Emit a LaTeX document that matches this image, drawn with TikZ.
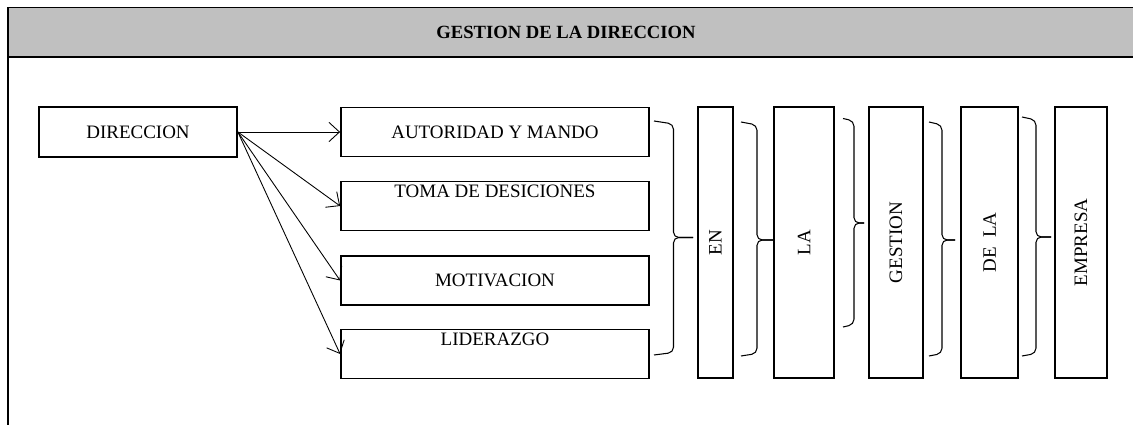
\documentclass[tikz,border=0pt]{standalone}
\usepackage{fontspec}
\setmainfont{Liberation Serif}
\usetikzlibrary{arrows.meta,calc}
\definecolor{headgrey}{HTML}{C0C0C0}

\begin{document}
\begin{tikzpicture}[
  font=\fontsize{10.8}{12.6}\selectfont,
  boxnode/.style={rectangle,draw=black,line width=1pt,inner sep=1pt},
  dirnode/.style={boxnode,minimum width=3.96cm,minimum height=1cm},
  subnode/.style={boxnode,minimum width=6.16cm,minimum height=0.98cm,align=center},
  tallnode/.style={boxnode,rotate=90,minimum width=5.42cm},
  arr/.style={-{Straight Barb[length=6pt,width=11pt]},line width=0.5pt},
  brc/.style={line width=0.6pt,rounded corners=3pt},
  frameline/.style={line width=1.1pt},
  titlelabel/.style={font=\fontsize{10.6}{12}\selectfont\bfseries},
]
\useasboundingbox (0,0) rectangle (22.66,-8.5);

% Header band and frame
\fill[headgrey] (0.16,-0.15) rectangle (22.66,-1.14);
\draw[frameline] (22.66,-0.15) -- (0.16,-0.15) -- (0.16,-8.5);
\draw[frameline] (0.16,-1.14) -- (22.66,-1.14);
\node[titlelabel] (title) at (11.32,-0.64) {GESTION DE LA DIRECCION};

% Left column
\node[dirnode] (dir) at (2.76,-2.64) {DIRECCION};

% Middle column
\node[subnode] (aut)   at (9.9,-2.64) {AUTORIDAD Y MANDO};
\node[subnode] (toma)  at (9.9,-4.12) {TOMA DE DESICIONES\\\strut};
\node[subnode] (moti)  at (9.9,-5.61) {MOTIVACION};
\node[subnode] (lider) at (9.9,-7.08) {LIDERAZGO\\\strut};

\draw[arr] (dir.east) -- (aut.west);
\draw[arr] (dir.east) -- (toma.west);
\draw[arr] (dir.east) -- (moti.west);
\draw[arr] (dir.east) -- (lider.west);

% Tall boxes
\node[tallnode,minimum height=0.7cm]  (en)      at (14.31,-4.85) {EN};
\node[tallnode,minimum height=1.2cm]  (la)      at (16.08,-4.85) {LA};
\node[tallnode,minimum height=1.08cm] (gestion) at (17.92,-4.85) {GESTION};
\node[tallnode,minimum height=1.14cm] (dela)    at (19.79,-4.85) {DE~~LA};
\node[tallnode,minimum height=1.04cm] (empresa) at (21.62,-4.85) {EMPRESA};

% Braces
\draw[brc] (13.08,-2.42) -- (13.47,-2.48) -- (13.47,-4.75) -- (13.86,-4.75);
\draw[brc] (13.08,-7.10) -- (13.47,-7.05) -- (13.47,-4.75) -- (13.86,-4.75);
\draw[brc] (14.82,-2.44) -- (15.14,-2.50) -- (15.14,-4.80) -- (15.46,-4.80);
\draw[brc] (14.82,-7.12) -- (15.14,-7.07) -- (15.14,-4.80) -- (15.46,-4.80);
\draw[brc] (16.86,-2.37) -- (17.08,-2.42) -- (17.08,-4.46) -- (17.28,-4.46);
\draw[brc] (16.86,-6.54) -- (17.08,-6.49) -- (17.08,-4.46) -- (17.28,-4.46);
\draw[brc] (18.58,-2.44) -- (18.84,-2.50) -- (18.84,-4.80) -- (19.10,-4.80);
\draw[brc] (18.58,-7.12) -- (18.84,-7.07) -- (18.84,-4.80) -- (19.10,-4.80);
\draw[brc] (20.44,-2.34) -- (20.72,-2.40) -- (20.72,-4.74) -- (21.02,-4.74);
\draw[brc] (20.44,-7.12) -- (20.72,-7.07) -- (20.72,-4.74) -- (21.02,-4.74);
\end{tikzpicture}
\end{document}
